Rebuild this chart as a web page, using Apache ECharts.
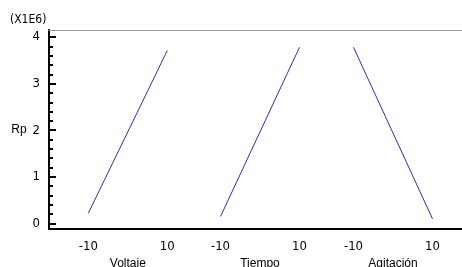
<!DOCTYPE html>
<html><head><meta charset="utf-8">
<script src="https://cdn.jsdelivr.net/npm/echarts@6/dist/echarts.min.js"></script>
<style>html,body{margin:0;padding:0;background:#fff}#c{width:462px;height:267px}</style>
</head><body><div id="c"></div>
<script>
var factors = ['Voltaje', 'Tiempo', 'Agitación'];
var levels = [-10, 10];
var voltaje = [0.22, 3.71];
var tiempo = [0.15, 3.78];
var agitacion = [3.78, 0.10];
var yTicks = [0, 1, 2, 3, 4];
var yMinorTicks = [0.2,0.4,0.6,0.8,1.2,1.4,1.6,1.8,2.2,2.4,2.6,2.8,3.2,3.4,3.6,3.8];
var yLabel = 'Rp';
var scaleLabel = '(X1E6)';

var seriesValues = [voltaje, tiempo, agitacion];
var numFont = '"Liberation Sans Narrow", "DejaVu Sans Condensed", sans-serif';
var txtFont = '"Liberation Sans", Arial, sans-serif';
var yMin = -0.118, yMax = 4.15;
var gTop = 30, gBottom = 38;
var centers = [127.8, 260, 393];
var halfW = 66;
var xHalf = halfW * 20 / 79;

var grids = [{left: 49, right: 0, top: gTop, bottom: gBottom, outerBoundsMode: 'none', containLabel: false}];
var xAxes = [
  {gridIndex: 0, type: 'value', min: 0, max: 1, position: 'bottom',
   axisLine: {show: true, onZero: false, lineStyle: {color: '#000', width: 2}},
   axisTick: {show: false}, axisLabel: {show: false}, splitLine: {show: false}},
  {gridIndex: 0, type: 'value', min: 0, max: 1, position: 'top',
   axisLine: {show: true, onZero: false, lineStyle: {color: '#999', width: 1}},
   axisTick: {show: false}, axisLabel: {show: false}, splitLine: {show: false}}
];
var yAxes = [
  {gridIndex: 0, type: 'value', min: yMin, max: yMax, position: 'left',
   name: yLabel, nameLocation: 'middle', nameRotate: 0, nameGap: 2,
   nameTextStyle: {fontFamily: txtFont, fontSize: 12, color: '#000'},
   axisLine: {show: true, onZero: false, lineStyle: {color: '#000', width: 2}},
   axisTick: {show: true, inside: true, length: 7, customValues: yTicks, lineStyle: {color: '#000', width: 2}},
   axisLabel: {show: true, customValues: yTicks, margin: 9, fontFamily: numFont, fontSize: 13, color: '#000'},
   splitLine: {show: false}},
  {gridIndex: 0, type: 'value', min: yMin, max: yMax, position: 'left',
   axisLine: {show: false},
   axisTick: {show: true, inside: true, length: 4, customValues: yMinorTicks, lineStyle: {color: '#000', width: 2}},
   axisLabel: {show: false}, splitLine: {show: false}}
];
var series = [];
factors.forEach(function (f, i) {
  var gi = i + 1;
  grids.push({left: centers[i] - halfW, width: halfW * 2, top: gTop, bottom: gBottom, outerBoundsMode: 'none', containLabel: false});
  xAxes.push({gridIndex: gi, type: 'value', min: -xHalf, max: xHalf,
    name: f, nameLocation: 'middle', nameGap: 27,
    nameTextStyle: {fontFamily: txtFont, fontSize: 12, color: '#000'},
    axisLine: {show: false}, axisTick: {show: false},
    axisLabel: {show: true, customValues: levels, margin: 11, fontFamily: numFont, fontSize: 13, color: '#000'},
    splitLine: {show: false}});
  yAxes.push({gridIndex: gi, type: 'value', min: yMin, max: yMax, show: false});
  series.push({type: 'line', xAxisIndex: i + 2, yAxisIndex: i + 2,
    data: levels.map(function (l, k) { return [l, seriesValues[i][k]]; }),
    symbol: 'none', lineStyle: {color: '#3030a8', width: 1}, silent: true, animation: false});
});

var chart = echarts.init(document.getElementById('c'));
chart.setOption({
  animation: false,
  backgroundColor: '#fff',
  title: {text: scaleLabel, left: 5, top: 9, textStyle: {fontFamily: numFont, fontSize: 12, fontWeight: 'normal', color: '#000'}},
  grid: grids, xAxis: xAxes, yAxis: yAxes, series: series
});
</script></body></html>
